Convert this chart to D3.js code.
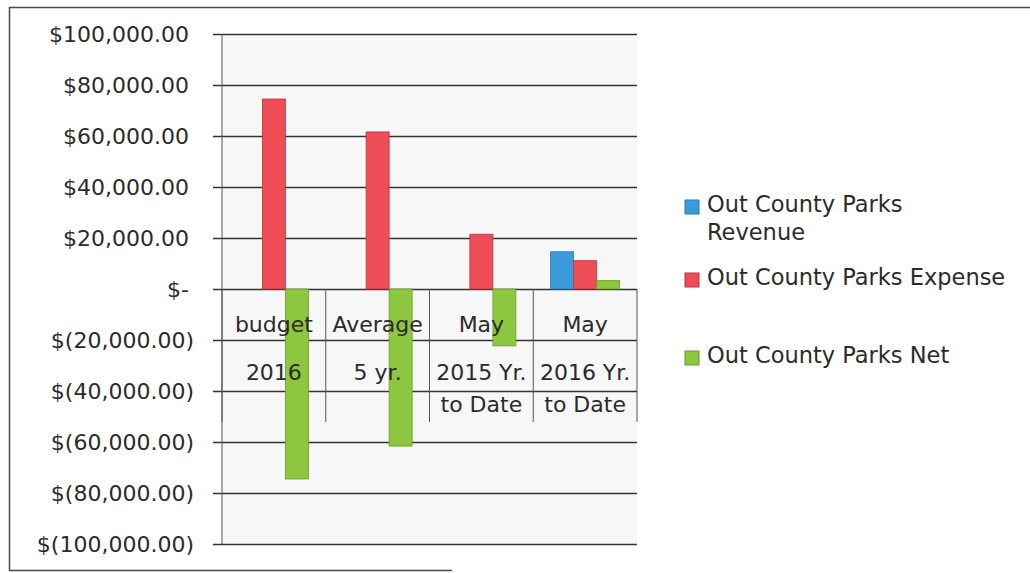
<!DOCTYPE html>
<html>
<head>
<meta charset="utf-8">
<script src="https://cdn.jsdelivr.net/npm/d3@7"></script>
<style>
	body { margin: 0; background: #fff; }
	svg { display: block; }
	text { font-family: "DejaVu Sans", sans-serif; fill: #2b2b2b; }
</style>
</head>
<body>
<svg id="chart" width="1030" height="573"></svg>
<script>
// ****** Data
var categories = [
	["budget", "2016"],
	["Average", "5 yr."],
	["May", "2015 Yr.", "to Date"],
	["May", "2016 Yr.", "to Date"]
];
var seriesNames = ["Out County Parks Revenue", "Out County Parks Expense", "Out County Parks Net"];
var revenue = [0, 0, 0, 14600];
var expense = [74500, 61600, 21500, 11100];
var net = [-74500, -61600, -22300, 3300];
var yTicks = [100000, 80000, 60000, 40000, 20000, 0, -20000, -40000, -60000, -80000, -100000];

var colors = ["#3a9bdc", "#ee4d58", "#8dc63f"];
var strokes = ["#2a78ad", "#b8343d", "#6a9a2c"];

// ****** Layout
var plot = { left: 222, right: 637, top: 34, bottom: 544 };
var tickLeft = 213;
var svg = d3.select('#chart');

// outer chart border (scanned, partly cut)
svg.append('path')
	.attr('d', 'M1030,7.5 L9.5,7.5 L9.5,570.5 L452,570.5')
	.attr('fill', 'none').attr('stroke', '#4a4a4a').attr('stroke-width', 1.5);

var y = d3.scaleLinear().domain([-100000, 100000]).range([plot.bottom, plot.top]);
var x0 = d3.scaleBand().domain(d3.range(categories.length)).range([plot.left, plot.right]);
var x1 = d3.scaleBand().domain(d3.range(seriesNames.length))
	.range([0, x0.bandwidth()]).paddingInner(0).paddingOuter(0.755);

// plot background
svg.append('rect')
	.attr('x', plot.left).attr('y', plot.top)
	.attr('width', plot.right - plot.left).attr('height', plot.bottom - plot.top)
	.attr('fill', '#f7f7f7');

// ****** Y axis with gridlines
function fmtMoney(v) {
	if (v === 0) return '$-';
	var s = d3.format(',.2f')(Math.abs(v));
	return v < 0 ? '$(' + s + ')' : '$' + s;
}
var yAxis = d3.axisLeft(y)
	.tickValues(yTicks)
	.tickFormat(fmtMoney)
	.tickSize(plot.right - tickLeft)
	.tickPadding(24);
var yG = svg.append('g')
	.attr('transform', 'translate(' + plot.right + ',0)')
	.call(yAxis);
yG.select('.domain').remove();
yG.selectAll('.tick line').attr('stroke', '#333').attr('stroke-width', 1.5);
yG.selectAll('.tick text')
	.style('font-size', '22px')
	.style('font-family', '"DejaVu Sans", sans-serif')
	.attr('fill', '#2b2b2b')
	.attr('dx', function(d) { return d < 0 ? 5 : 0; });

// vertical axis line
svg.append('line')
	.attr('x1', plot.left).attr('x2', plot.left)
	.attr('y1', plot.top).attr('y2', plot.bottom)
	.attr('stroke', '#555').attr('stroke-width', 1);

// ****** Bars
var series = [revenue, expense, net];
var groups = svg.append('g').selectAll('g')
	.data(categories)
	.join('g')
	.attr('transform', function(d, i) { return 'translate(' + x0(i) + ',0)'; });

groups.selectAll('rect')
	.data(function(d, i) { return series.map(function(s, k) { return { k: k, v: s[i] }; }); })
	.join('rect')
	.attr('x', function(d) { return x1(d.k); })
	.attr('width', x1.bandwidth())
	.attr('y', function(d) { return y(Math.max(0, d.v)); })
	.attr('height', function(d) { return Math.abs(y(d.v) - y(0)); })
	.attr('fill', function(d) { return colors[d.k]; })
	.attr('stroke', function(d) { return d.v === 0 ? 'none' : strokes[d.k]; })
	.attr('stroke-width', 0.8);

// ****** Category axis (multi-line labels hanging below zero)
var catBottom = 422;
var bounds = d3.range(categories.length + 1).map(function(i) {
	return i < categories.length ? x0(i) : x0(i - 1) + x0.bandwidth();
});
svg.append('g').selectAll('line')
	.data(bounds)
	.join('line')
	.attr('x1', function(d) { return d; }).attr('x2', function(d) { return d; })
	.attr('y1', y(0)).attr('y2', catBottom)
	.attr('stroke', '#555').attr('stroke-width', 1);

var rowBase = [332, 380, 412];
groups.append('text')
	.attr('text-anchor', 'middle')
	.style('font-size', '22px')
	.selectAll('tspan')
	.data(function(d) { return d; })
	.join('tspan')
	.attr('x', x0.bandwidth() / 2)
	.attr('y', function(d, i) { return rowBase[i]; })
	.text(function(d) { return d; });

// ****** Legend
var legendRows = [
	{ lines: ["Out County Parks", "Revenue"], base: 212 },
	{ lines: ["Out County Parks Expense"], base: 285 },
	{ lines: ["Out County Parks Net"], base: 363 }
];
var leg = svg.append('g').selectAll('g')
	.data(legendRows)
	.join('g');
leg.append('rect')
	.attr('x', 685).attr('y', function(d) { return d.base - 12; })
	.attr('width', 14).attr('height', 14)
	.attr('fill', function(d, i) { return colors[i]; })
	.attr('stroke', function(d, i) { return strokes[i]; })
	.attr('stroke-width', 1);
leg.append('text')
	.style('font-size', '22.5px')
	.selectAll('tspan')
	.data(function(d) { return d.lines.map(function(t, j) { return { t: t, y: d.base + j * 28 }; }); })
	.join('tspan')
	.attr('x', 707)
	.attr('y', function(d) { return d.y; })
	.text(function(d) { return d.t; });
</script>
</body>
</html>
